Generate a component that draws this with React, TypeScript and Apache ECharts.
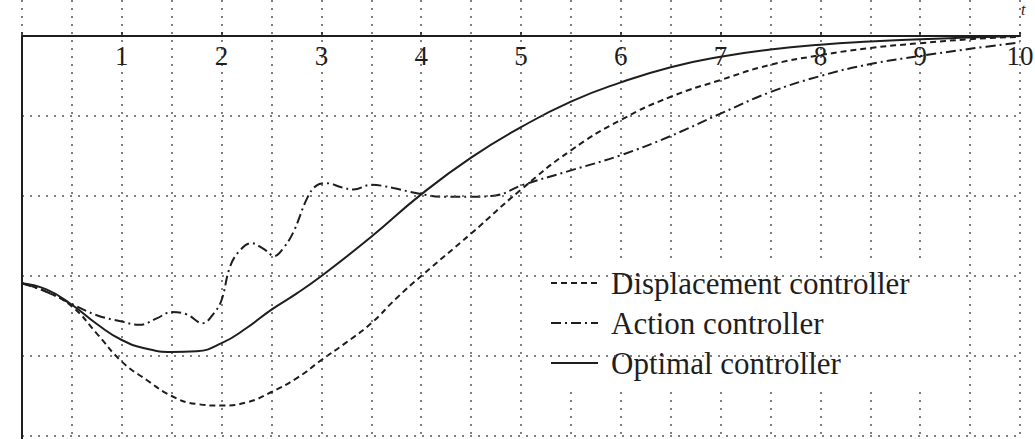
import React, { useEffect, useRef } from "react";
import * as echarts from "echarts";

const seriesNames = ["Displacement controller", "Action controller", "Optimal controller"];

const displacement: number[][] = [
  [0, -3.09], [0.25, -3.2], [0.5, -3.38], [0.75, -3.72], [1, -4.07], [1.25, -4.3], [1.5, -4.5],
  [1.75, -4.6], [2, -4.62], [2.25, -4.58], [2.5, -4.45], [2.75, -4.28], [3, -4.05], [3.25, -3.83],
  [3.5, -3.59], [3.75, -3.28], [4, -3.0], [4.5, -2.47], [5, -1.92], [5.5, -1.43], [6, -1.05],
  [6.5, -0.76], [7, -0.55], [7.5, -0.36], [8, -0.24], [8.5, -0.15], [9, -0.09], [9.5, -0.04], [10, -0.01],
];

const action: number[][] = [
  [0, -3.09], [0.25, -3.2], [0.5, -3.35], [0.75, -3.49], [1, -3.57], [1.18, -3.61], [1.35, -3.53],
  [1.5, -3.45], [1.65, -3.48], [1.81, -3.59], [1.92, -3.47], [2, -3.3], [2.08, -2.9], [2.17, -2.7],
  [2.3, -2.59], [2.42, -2.66], [2.53, -2.75], [2.62, -2.65], [2.72, -2.45], [2.86, -2.02],
  [2.95, -1.87], [3.05, -1.84], [3.2, -1.89], [3.32, -1.92], [3.5, -1.86], [3.72, -1.9],
  [3.97, -1.97], [4.25, -2.01], [4.5, -2.01], [4.76, -1.99], [5, -1.87], [5.5, -1.68], [6, -1.49],
  [6.5, -1.25], [7, -0.97], [7.5, -0.7], [8, -0.5], [8.5, -0.35], [9, -0.25], [9.5, -0.16], [10, -0.08],
];

const optimal: number[][] = [
  [0, -3.09], [0.25, -3.17], [0.5, -3.36], [0.75, -3.6], [1, -3.8], [1.25, -3.91], [1.5, -3.95],
  [1.75, -3.94], [2, -3.84], [2.25, -3.65], [2.5, -3.42], [2.75, -3.22], [3, -3.0], [3.5, -2.51],
  [4, -1.98], [4.5, -1.52], [5, -1.14], [5.5, -0.82], [6, -0.58], [6.5, -0.39], [7, -0.26],
  [7.5, -0.17], [8, -0.11], [8.5, -0.07], [9, -0.04], [9.5, -0.02], [10, 0],
];

const yGridLevels = [-1, -2, -3, -4, -5];
const xRange = [0, 10];
const yRange = [-5.0375, 0.45];

const FONT = "Liberation Serif";
const INK = "#1e1e1e";
const GRID = "#555";

export default function App() {
  const ref = useRef<HTMLDivElement>(null);

  useEffect(() => {
    if (!ref.current) return;
    const chart = echarts.init(ref.current, undefined, { renderer: "svg" });

    const lineBase = { color: INK, width: 2 };

    chart.setOption({
      animation: false,
      backgroundColor: "#fff",
      grid: {
        left: 22,
        right: 15,
        top: 0,
        bottom: 0,
        containLabel: false,
        outerBoundsMode: "none",
      },
      xAxis: {
        type: "value",
        position: "top",
        offset: -36,
        min: xRange[0],
        max: xRange[1],
        interval: 1,
        axisLine: { show: true, onZero: false, lineStyle: { color: INK, width: 2 } },
        axisTick: { show: true, inside: false, length: 4, lineStyle: { color: INK, width: 1.5 } },
        axisLabel: {
          show: true,
          inside: true,
          margin: 6,
          color: INK,
          fontFamily: FONT,
          fontSize: 27,
          formatter: (v: number) => (v === 0 ? "" : String(v)),
        },
        splitLine: { show: true, lineStyle: { color: GRID, width: 1.5, type: [2, 6] } },
        minorTick: { show: false, splitNumber: 2 },
        minorSplitLine: { show: true, lineStyle: { color: GRID, width: 1.5, type: [2, 6] } },
      },
      yAxis: {
        type: "value",
        min: yRange[0],
        max: yRange[1],
        axisLine: { show: false },
        axisTick: { show: false },
        axisLabel: { show: false },
        splitLine: { show: false },
      },
      legend: {
        show: true,
        orient: "vertical",
        left: 546,
        top: 262,
        data: seriesNames,
        itemWidth: 47,
        itemHeight: 14,
        itemGap: 6,
        padding: [4, 40, 6, 4],
        backgroundColor: "#fff",
        itemStyle: { opacity: 0 },
        textStyle: {
          fontFamily: FONT,
          fontSize: 31,
          color: INK,
          lineHeight: 34,
          padding: [0, 0, 0, 8],
        },
      },
      graphic: [
        {
          type: "text",
          left: 1021,
          top: 1,
          style: { text: "t", fontFamily: FONT, fontStyle: "italic", fontSize: 16, fill: INK },
        },
      ],
      series: [
        {
          name: seriesNames[0],
          type: "line",
          data: displacement,
          smooth: 0.5,
          symbol: "none",
          lineStyle: { ...lineBase, type: [6, 4] },
          itemStyle: { color: INK },
          z: 3,
          markLine: {
            silent: true,
            symbol: "none",
            label: { show: false },
            lineStyle: { color: GRID, width: 1.5, type: [2, 6] },
            data: yGridLevels.map((y) => ({ yAxis: y })),
          },
        },
        {
          name: seriesNames[1],
          type: "line",
          data: action,
          smooth: 0.4,
          symbol: "none",
          lineStyle: { ...lineBase, type: [10, 4, 2, 4] },
          itemStyle: { color: INK },
          z: 3,
          markLine: {
            silent: true,
            symbol: "none",
            label: { show: false },
            lineStyle: { color: INK, width: 2, type: "solid" },
            data: [[{ coord: [xRange[0], 0] }, { coord: [xRange[0], yRange[0]] }]],
          },
        },
        {
          name: seriesNames[2],
          type: "line",
          data: optimal,
          smooth: 0.5,
          symbol: "none",
          lineStyle: { ...lineBase, type: "solid" },
          itemStyle: { color: INK },
          z: 3,
        },
      ],
    });

    return () => chart.dispose();
  }, []);

  return (
    <div
      ref={ref}
      style={{ position: "absolute", left: 0, top: 0, width: 1035, height: 439 }}
    />
  );
}
